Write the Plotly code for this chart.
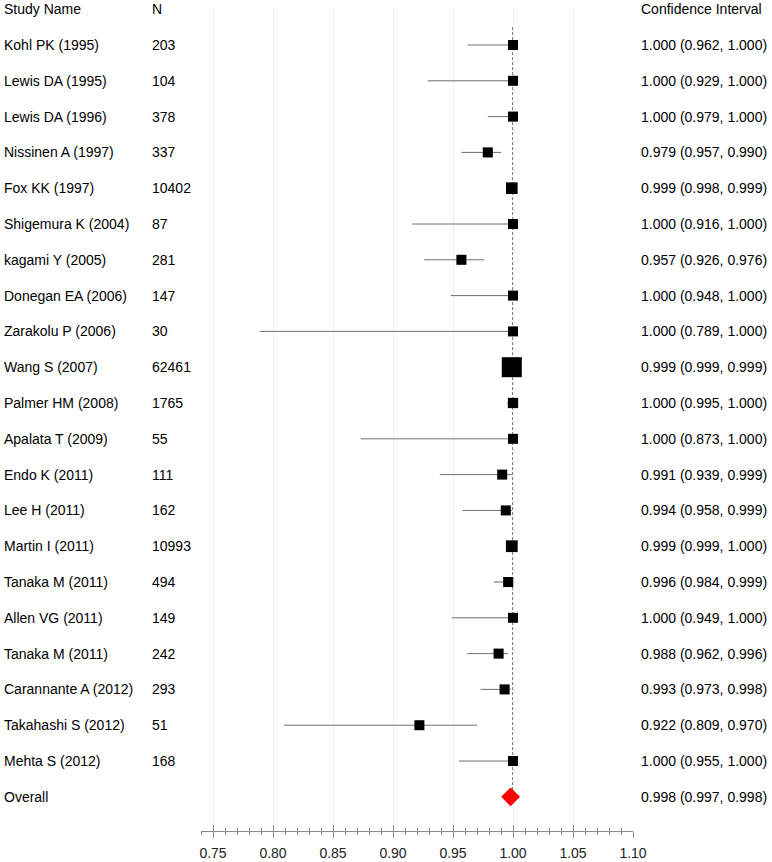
import plotly.graph_objects as go

studies = ["Kohl PK (1995)", "Lewis DA (1995)", "Lewis DA (1996)", "Nissinen A (1997)",
           "Fox KK (1997)", "Shigemura K (2004)", "kagami Y (2005)", "Donegan EA (2006)",
           "Zarakolu P (2006)", "Wang S (2007)", "Palmer HM (2008)", "Apalata T (2009)",
           "Endo K (2011)", "Lee H (2011)", "Martin I (2011)", "Tanaka M (2011)",
           "Allen VG (2011)", "Tanaka M (2011)", "Carannante A (2012)", "Takahashi S (2012)",
           "Mehta S (2012)"]
n_values = [203, 104, 378, 337, 10402, 87, 281, 147, 30, 62461, 1765, 55, 111, 162,
            10993, 494, 149, 242, 293, 51, 168]
estimates = [1.000, 1.000, 1.000, 0.979, 0.999, 1.000, 0.957, 1.000, 1.000, 0.999, 1.000,
             1.000, 0.991, 0.994, 0.999, 0.996, 1.000, 0.988, 0.993, 0.922, 1.000]
lower = [0.962, 0.929, 0.979, 0.957, 0.998, 0.916, 0.926, 0.948, 0.789, 0.999, 0.995,
         0.873, 0.939, 0.958, 0.999, 0.984, 0.949, 0.962, 0.973, 0.809, 0.955]
upper = [1.000, 1.000, 1.000, 0.990, 0.999, 1.000, 0.976, 1.000, 1.000, 0.999, 1.000,
         1.000, 0.999, 0.999, 1.000, 0.999, 1.000, 0.996, 0.998, 0.970, 1.000]
overall_est, overall_lo, overall_hi = 0.998, 0.997, 0.998
tick_vals = [0.75, 0.80, 0.85, 0.90, 0.95, 1.00, 1.05, 1.10]
tick_labels = ["0.75", "0.80", "0.85", "0.90", "0.95", "1.00", "1.05", "1.10"]

rows = list(range(len(studies)))
overall_row = len(studies)
max_n = max(n_values)
sizes = [10 + 10 * n / max_n for n in n_values]

FONT = "Liberation Sans, Arial, sans-serif"
fig = go.Figure()

# CI whiskers + squares
fig.add_trace(go.Scatter(
    x=estimates, y=rows, mode="markers",
    marker=dict(symbol="square", size=sizes, color="black", opacity=1, line=dict(width=0)),
    error_x=dict(type="data", symmetric=False,
                 array=[u - e for u, e in zip(upper, estimates)],
                 arrayminus=[e - l for e, l in zip(estimates, lower)],
                 color="#6e6e6e", thickness=1, width=0),
    showlegend=False, hoverinfo="skip", cliponaxis=False))

# overall diamond (on overlay axis to render inner ticks)
fig.add_trace(go.Scatter(
    x=[overall_est], y=[overall_row], mode="markers", xaxis="x2",
    marker=dict(symbol="diamond", size=14.5, color="#ff0000", opacity=1, line=dict(width=0)),
    showlegend=False, hoverinfo="skip", cliponaxis=False))

# reference dashed line
fig.add_shape(type="line", xref="x", yref="y", x0=1.0, x1=1.0, y0=-0.5, y1=overall_row,
              line=dict(color="black", width=1, dash="3px,2px"), layer="below")

# text columns
def col_text(txt, y, px, **kw):
    fig.add_annotation(x=0, xref="paper", y=y, yref="y", text=txt, showarrow=False,
                       xanchor="left", yanchor="middle", xshift=px - 201 - 2,
                       font=dict(family=FONT, size=14, color="black"), **kw)

col_text("Study Name", -1, 4)
col_text("N", -1, 152)
col_text("Confidence Interval", -1, 641)
for i, (s, n, e, l, u) in enumerate(zip(studies, n_values, estimates, lower, upper)):
    col_text(s, i, 4)
    col_text(str(n), i, 152)
    col_text(f"{e:.3f} ({l:.3f}, {u:.3f})", i, 641)
col_text("Overall", overall_row, 4)
col_text(f"{overall_est:.3f} ({overall_lo:.3f}, {overall_hi:.3f})", overall_row, 641)

xr = [0.74, 1.10]
fig.update_layout(
    width=772, height=862,
    margin=dict(l=201, r=139, t=8, b=31, autoexpand=False),
    paper_bgcolor="white", plot_bgcolor="white",
    font=dict(family=FONT, size=14, color="#222"),
    xaxis=dict(range=xr, tickvals=tick_vals, ticktext=tick_labels, automargin=False,
               showgrid=True, gridcolor="#f0f0f0", gridwidth=1, zeroline=False,
               showline=True, linecolor="#8a8a8a", linewidth=1,
               ticks="outside", ticklen=6, tickcolor="#8a8a8a", ticklabelstandoff=3,
               minor=dict(dtick=0.01, tick0=0.74, ticks="outside", ticklen=3,
                          tickcolor="#8a8a8a", showgrid=False),
               tickfont=dict(family=FONT, size=14, color="#222"),
               fixedrange=True),
    xaxis2=dict(range=xr, overlaying="x", side="bottom", anchor="y", automargin=False,
                tickvals=tick_vals, showticklabels=False, showgrid=False, zeroline=False,
                showline=False, ticks="inside", ticklen=6, tickcolor="#8a8a8a",
                minor=dict(dtick=0.01, tick0=0.74, ticks="inside", ticklen=3,
                           tickcolor="#8a8a8a", showgrid=False)),
    yaxis=dict(range=[21.955, -1.0335], showgrid=False, zeroline=False, automargin=False,
               showticklabels=False, showline=False, ticks=""),
)

fig.write_html("out.html", config={"displayModeBar": False},
               post_script="document.body.style.margin='0';")
